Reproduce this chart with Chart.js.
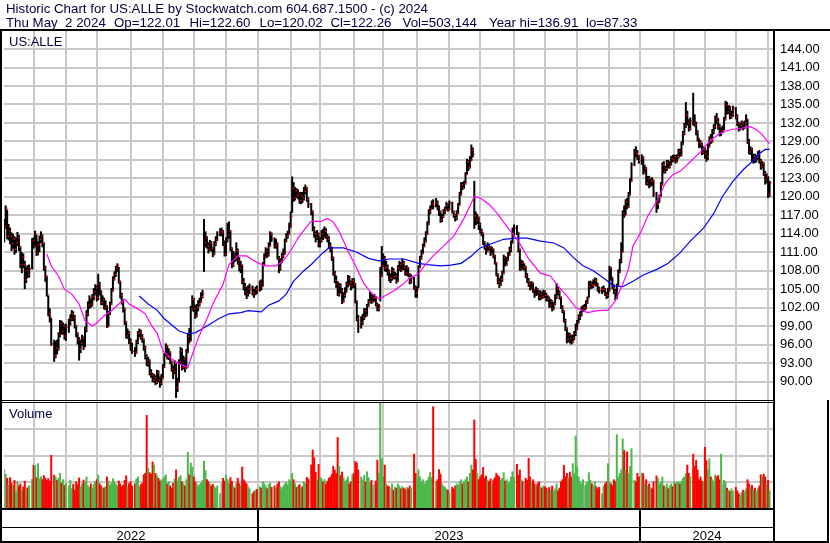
<!DOCTYPE html>
<html>
<head>
<meta charset="utf-8">
<title>Historic Chart for US:ALLE</title>
<script src="https://cdn.jsdelivr.net/npm/chart.js@4.4.1/dist/chart.umd.min.js"></script>
<style>
  html, body { margin: 0; padding: 0; background: #fff; }
  canvas { display: block; }
</style>
</head>
<body>
<canvas id="historicChart" width="830" height="543"></canvas>
<script>
// Market holidays inside the range (no session, but the weekday keeps its slot)
const holidays = [
    '2022-05-30', '2022-06-20', '2022-07-04', '2022-09-05', '2022-11-24', '2022-12-26',
    '2023-01-02', '2023-01-16', '2023-02-20', '2023-04-07', '2023-05-29', '2023-06-19',
    '2023-07-04', '2023-09-04', '2023-11-23', '2023-12-25',
    '2024-01-01', '2024-01-15', '2024-02-19', '2024-03-29'
];

// Daily highs, one row per month (2022-05-04 .. 2024-05-02)
const highs = [
    116.4, 118.6, 117.9, 115.6, 115.0, 114.2, 114.0, 113.6, 113.4, 114.3, 113.8, 112.0, 111.0, 110.8, 109.6, 108.7, 108.9, 109.0, 113.3,
    113.4, 114.5, 113.9, 112.8, 113.7, 114.4, 113.9, 112.6, 108.8, 107.2, 104.0, 101.9, 100.3, 96.8, 96.6, 96.8, 98.0, 100.0, 99.9, 99.6, 99.3,
    99.4, 100.2, 100.9, 101.6, 101.4, 100.8, 99.2, 98.0, 97.2, 96.8, 97.6, 97.3, 98.9, 101.6, 103.0, 104.0, 103.6, 104.2, 105.2, 105.8,
    105.6, 107.5, 106.2, 104.8, 104.0, 103.6, 103.2, 102.4, 101.5, 103.0, 105.2, 107.1, 107.9, 108.8, 109.2, 108.6, 106.4, 104.4, 103.3, 102.0, 99.8, 98.6, 98.2,
    97.0, 96.3, 95.6, 96.8, 98.2, 98.6, 98.4, 97.7, 97.0, 95.8, 94.4, 94.0, 93.6, 92.0, 91.4, 91.2, 91.0, 91.9, 91.8, 90.8, 91.2,
    92.8, 94.6, 96.2, 95.9, 95.4, 94.9, 93.4, 92.6, 93.5, 93.0, 90.6, 93.6, 95.6, 95.4, 94.2, 93.9, 95.3, 97.9, 98.7, 102.3, 104.0,
    103.6, 102.4, 102.6, 103.2, 103.6, 104.5, 104.9, 116.4, 114.4, 113.6, 112.6, 113.0, 112.8, 111.8, 112.8, 113.6, 114.4, 114.9, 115.0, 114.6, 112.9,
    113.4, 115.8, 116.0, 114.6, 111.8, 111.2, 110.9, 112.6, 111.6, 110.2, 109.6, 109.0, 106.8, 106.0, 105.4, 105.6, 105.9, 105.6, 105.0, 105.4, 105.6,
    106.4, 106.6, 109.4, 110.8, 111.8, 111.6, 112.6, 114.4, 114.2, 113.4, 113.2, 112.6, 110.4, 110.0, 110.9, 111.6, 113.2, 114.1, 114.5, 115.8,
    117.6, 123.3, 122.4, 121.6, 121.4, 121.2, 120.8, 120.8, 120.8, 121.6, 122.0, 121.6, 119.9, 119.0, 117.8, 115.2, 114.4, 114.6, 114.2,
    113.4, 114.6, 114.8, 115.2, 114.9, 114.0, 113.6, 112.6, 111.9, 110.3, 108.0, 107.2, 106.3, 106.0, 105.9, 105.2, 104.5, 105.3, 106.2, 107.3, 107.2, 106.4, 106.8,
    106.8, 106.0, 103.2, 100.8, 100.6, 101.0, 101.9, 101.9, 102.6, 103.4, 104.6, 104.4, 104.1, 104.2, 103.9, 102.8, 102.6, 108.6, 112.0,
    110.8, 110.4, 109.6, 109.0, 108.2, 107.6, 108.6, 108.4, 107.8, 107.6, 108.9, 109.6, 109.4, 110.0, 109.6, 108.8, 108.9, 108.6, 107.6, 107.4, 107.0, 105.6,
    105.4, 108.9, 110.4, 111.4, 112.4, 113.4, 114.4, 116.0, 118.0, 118.6, 119.4, 119.6, 119.8, 119.4, 118.6, 117.8, 117.2, 118.0, 118.4, 119.2, 118.9,
    119.4, 119.2, 117.8, 117.2, 117.8, 119.0, 120.8, 122.4, 122.4, 122.6, 124.0, 126.2, 126.0, 126.6, 128.5, 128.0, 122.6, 117.6, 117.2, 116.8,
    115.8, 114.8, 114.2, 112.8, 112.2, 112.6, 112.4, 112.0, 111.9, 111.6, 110.6, 109.4, 107.6, 106.8, 107.2, 108.0, 110.6, 110.4, 110.2, 111.0, 111.9, 112.9, 115.0,
    115.5, 115.4, 114.3, 111.6, 109.8, 109.6, 109.2, 108.8, 107.6, 106.8, 106.2, 106.3, 106.1, 105.0, 105.4, 105.2, 104.8, 104.8, 104.6, 104.9,
    104.8, 104.4, 104.0, 103.8, 103.4, 103.2, 102.9, 104.2, 106.0, 105.4, 104.8, 103.8, 102.4, 101.6, 100.2, 98.8, 98.0, 97.9, 97.6, 97.6, 98.2, 99.4,
    100.0, 100.9, 101.4, 102.2, 102.4, 102.6, 103.2, 103.8, 106.3, 106.4, 106.2, 106.6, 106.9, 106.8, 106.0, 105.4, 105.4, 105.6, 105.2, 104.6, 105.2,
    108.8, 108.6, 107.0, 105.8, 105.0, 105.9, 108.2, 109.9, 112.6, 117.8, 118.6, 119.6, 119.8, 120.8, 123.0, 125.6, 127.8, 128.2, 127.6, 126.8,
    126.9, 126.6, 125.2, 124.8, 123.4, 123.4, 123.0, 123.2, 122.8, 120.8, 119.8, 120.4, 122.4, 125.6, 125.8, 125.0, 126.0, 126.0, 125.8, 126.6, 126.8,
    126.9, 126.8, 126.9, 127.8, 127.8, 129.0, 130.7, 132.0, 135.4, 134.0, 132.6, 132.9, 136.91, 133.4, 132.2, 130.8, 129.6, 129.2, 128.8, 128.2,
    128.0, 127.6, 128.6, 129.8, 130.2, 131.0, 131.8, 133.2, 133.6, 132.8, 131.8, 131.3, 131.6, 133.0, 135.6, 135.4, 134.9, 134.8, 134.0, 134.8,
    134.6, 133.4, 132.2, 132.0, 132.4, 132.2, 132.4, 133.4, 132.6, 129.4, 128.2, 128.0, 127.0, 127.0, 126.8, 127.4, 127.6, 126.2, 125.8, 125.6, 124.2, 123.8,
    123.4, 122.60
];

// Daily lows
const lows = [
    112.6, 114.8, 113.1, 112.9, 112.3, 111.2, 111.6, 110.6, 110.9, 112.0, 111.2, 108.4, 107.6, 108.4, 105.0, 106.0, 106.8, 106.9, 108.2,
    111.6, 111.8, 110.4, 110.5, 111.0, 112.5, 111.8, 108.0, 106.2, 103.8, 100.6, 99.6, 95.8, 93.2, 93.8, 94.4, 95.0, 97.2, 97.6, 97.6, 96.8,
    96.6, 97.9, 99.1, 99.8, 99.8, 98.6, 97.2, 96.0, 93.4, 94.6, 95.8, 95.1, 95.6, 98.0, 100.6, 101.8, 102.0, 102.2, 103.2, 104.0,
    103.0, 103.2, 104.0, 102.4, 102.4, 101.7, 101.6, 98.7, 98.9, 100.8, 102.4, 104.6, 106.4, 107.0, 107.8, 105.9, 103.5, 102.5, 101.2, 99.2, 97.0, 96.9, 96.1,
    95.0, 94.5, 94.0, 94.5, 96.1, 97.2, 96.8, 96.3, 95.0, 93.6, 92.5, 92.4, 91.0, 90.6, 89.9, 89.8, 89.4, 89.6, 89.9, 89.0, 89.4,
    90.4, 92.2, 94.0, 93.6, 93.5, 92.8, 91.6, 90.4, 91.2, 87.33, 88.3, 89.8, 92.8, 91.8, 92.0, 91.5, 92.0, 94.6, 96.2, 96.5, 101.5,
    101.3, 100.2, 100.4, 101.4, 102.2, 102.8, 103.5, 107.8, 111.8, 111.6, 110.8, 111.2, 111.1, 110.2, 110.5, 112.0, 112.8, 113.6, 113.6, 112.0, 110.3,
    110.4, 112.6, 113.2, 111.2, 108.4, 108.6, 109.4, 109.6, 109.0, 107.9, 107.6, 105.8, 104.8, 104.0, 103.4, 103.8, 104.2, 104.0, 103.6, 104.0, 104.2,
    104.6, 104.8, 105.4, 108.8, 110.0, 110.1, 110.3, 111.9, 112.7, 111.6, 111.6, 109.8, 107.6, 108.0, 109.2, 110.0, 110.6, 112.6, 113.2, 113.8,
    115.0, 117.4, 119.2, 119.4, 119.8, 119.6, 118.9, 118.8, 119.0, 119.4, 120.4, 119.2, 118.2, 117.0, 114.4, 113.4, 112.6, 113.0, 111.8,
    111.8, 112.6, 113.0, 113.3, 113.2, 112.6, 111.6, 111.0, 109.6, 107.2, 106.0, 105.2, 103.9, 103.8, 104.3, 102.6, 102.8, 103.6, 104.4, 105.3, 105.6, 104.8, 105.1,
    105.2, 102.7, 99.8, 97.9, 98.6, 99.2, 100.0, 100.4, 100.6, 102.1, 102.8, 102.6, 102.8, 103.0, 102.2, 101.4, 101.4, 103.0, 107.0,
    108.6, 107.9, 107.8, 107.2, 106.3, 106.0, 106.4, 106.6, 106.6, 105.9, 106.2, 108.0, 107.8, 108.0, 108.1, 107.2, 107.2, 107.0, 105.8, 105.9, 104.9, 103.6,
    103.6, 105.2, 108.4, 109.8, 110.7, 111.8, 112.6, 113.8, 115.4, 117.2, 117.9, 118.0, 118.3, 117.8, 116.9, 115.8, 115.9, 116.6, 117.2, 117.8, 117.6,
    117.8, 117.3, 116.6, 116.0, 116.2, 117.2, 118.6, 120.2, 121.1, 121.3, 122.0, 123.6, 124.2, 124.6, 125.8, 126.4, 114.8, 115.4, 115.6, 114.6,
    114.0, 113.6, 112.2, 111.4, 110.6, 111.0, 111.3, 110.4, 110.6, 110.0, 109.0, 107.1, 105.8, 105.2, 105.5, 106.2, 107.4, 108.7, 108.8, 109.6, 110.4, 111.0, 112.4,
    113.6, 113.8, 111.0, 108.0, 108.0, 108.2, 108.0, 106.8, 106.0, 105.4, 104.8, 104.9, 104.4, 103.6, 103.9, 104.0, 103.2, 103.2, 103.4, 103.5,
    103.6, 103.0, 103.0, 102.0, 102.0, 101.4, 101.6, 102.4, 103.4, 104.0, 103.3, 101.8, 101.1, 99.6, 98.2, 96.2, 96.4, 96.2, 96.0, 96.2, 96.7, 97.4,
    98.4, 99.4, 100.0, 100.6, 101.3, 101.5, 101.7, 102.6, 103.6, 105.0, 105.1, 105.2, 105.6, 105.4, 104.6, 104.3, 104.2, 104.5, 103.9, 103.4, 103.6,
    104.6, 106.4, 105.0, 104.2, 103.2, 103.4, 105.4, 107.6, 109.2, 111.0, 116.6, 117.0, 118.0, 118.2, 120.2, 122.4, 125.0, 126.4, 126.0, 125.4,
    125.2, 123.6, 123.8, 121.9, 121.8, 121.4, 121.6, 121.8, 120.0, 117.4, 118.0, 119.0, 120.0, 121.8, 123.8, 123.8, 124.2, 124.6, 124.6, 125.1, 125.6,
    125.8, 125.4, 125.6, 126.2, 126.5, 126.6, 128.4, 130.0, 131.2, 131.6, 130.6, 130.8, 131.6, 131.4, 130.0, 129.0, 127.9, 128.0, 126.8, 126.9,
    126.2, 125.7, 126.0, 128.0, 128.6, 128.8, 130.2, 131.0, 131.8, 130.9, 129.8, 129.9, 130.4, 130.8, 132.4, 133.4, 133.4, 132.6, 132.7, 133.0,
    132.6, 131.5, 130.6, 130.8, 131.0, 130.8, 131.0, 131.6, 128.6, 126.9, 126.8, 125.6, 125.4, 125.5, 125.6, 126.0, 125.4, 124.4, 124.6, 123.4, 122.0, 122.2,
    119.8, 120.02
];

// Daily closes
const closes = [
    115.2, 118.1, 113.6, 114.5, 113.6, 112.4, 113.2, 111.5, 112.6, 113.4, 111.8, 109.0, 110.2, 109.0, 106.5, 108.0, 107.4, 108.3, 112.8,
    112.0, 113.9, 110.8, 112.2, 113.1, 113.6, 112.5, 108.4, 107.0, 104.2, 101.0, 100.5, 96.1, 94.2, 95.5, 95.3, 97.6, 99.4, 98.2, 99.0, 97.4,
    98.8, 99.6, 100.2, 101.0, 100.4, 99.0, 97.8, 96.8, 95.3, 96.2, 97.0, 95.5, 98.5, 101.0, 102.4, 103.4, 102.6, 103.8, 104.6, 105.2,
    103.6, 105.8, 104.4, 102.8, 103.3, 102.0, 102.3, 98.9, 101.0, 102.6, 104.8, 106.6, 107.4, 108.4, 108.9, 106.2, 104.0, 102.9, 101.8, 99.6, 97.4, 97.9, 96.5,
    95.5, 94.9, 94.7, 96.4, 97.8, 98.0, 97.2, 96.8, 95.5, 94.0, 92.9, 93.4, 91.4, 91.0, 90.2, 90.6, 89.9, 91.4, 90.2, 89.7, 90.6,
    92.4, 94.1, 95.7, 94.0, 94.7, 93.1, 92.0, 91.6, 92.9, 89.0, 90.0, 93.2, 95.0, 92.3, 93.6, 92.1, 94.8, 97.3, 96.6, 101.8, 103.4,
    101.8, 100.6, 102.0, 102.6, 103.0, 103.8, 104.2, 112.6, 113.4, 112.0, 111.4, 112.5, 111.6, 110.7, 112.3, 113.0, 113.9, 114.3, 114.3, 112.2, 110.7,
    113.0, 113.8, 114.4, 111.6, 109.0, 110.6, 110.0, 111.2, 109.6, 108.4, 108.9, 106.2, 105.5, 104.6, 104.2, 105.0, 105.2, 104.5, 104.2, 105.0, 104.8,
    106.0, 105.4, 109.0, 110.2, 111.2, 110.6, 112.0, 113.9, 113.2, 112.0, 112.3, 110.0, 108.4, 109.6, 110.4, 110.9, 112.8, 113.6, 114.0, 115.4,
    116.8, 121.4, 119.8, 121.0, 120.3, 120.6, 119.4, 120.2, 119.8, 120.9, 121.4, 119.6, 118.8, 117.6, 114.7, 114.0, 113.4, 113.9, 112.3,
    113.0, 114.0, 113.5, 114.4, 113.6, 113.1, 112.0, 111.5, 110.0, 107.5, 106.4, 105.8, 104.2, 105.5, 104.8, 103.0, 104.0, 104.6, 105.8, 106.8, 106.0, 105.5, 106.4,
    105.8, 103.0, 100.2, 99.0, 99.6, 100.4, 101.5, 100.8, 102.3, 103.0, 104.2, 103.0, 103.6, 103.6, 102.5, 101.8, 102.2, 107.3, 108.8,
    110.0, 108.4, 108.6, 107.8, 106.8, 106.8, 108.0, 107.0, 107.2, 106.3, 108.4, 109.0, 108.2, 109.2, 108.5, 107.6, 108.4, 107.4, 106.2, 106.8, 105.2, 104.4,
    105.0, 108.6, 110.0, 110.8, 112.0, 112.8, 114.0, 115.6, 117.6, 118.0, 118.9, 118.5, 119.0, 118.2, 117.6, 116.2, 116.8, 117.5, 118.0, 118.6, 118.0,
    119.0, 117.6, 117.0, 116.5, 117.4, 118.6, 120.4, 122.0, 121.4, 122.2, 123.6, 125.7, 124.8, 126.0, 127.6, 126.9, 116.9, 116.2, 116.6, 115.5,
    114.4, 114.0, 112.6, 111.8, 111.2, 112.0, 111.7, 110.8, 111.5, 110.4, 109.2, 107.4, 106.2, 105.8, 106.6, 107.6, 110.2, 109.0, 109.8, 110.6, 111.4, 112.5, 113.8,
    114.9, 114.2, 111.4, 108.3, 109.2, 108.6, 108.6, 107.2, 106.3, 105.8, 105.2, 105.9, 104.7, 104.2, 105.0, 104.4, 103.6, 104.2, 103.8, 104.6,
    104.0, 103.4, 103.6, 102.4, 103.0, 101.8, 102.6, 103.8, 105.0, 104.4, 103.6, 102.0, 101.4, 99.9, 98.6, 96.8, 97.6, 97.0, 96.4, 97.0, 97.8, 98.7,
    99.6, 100.4, 101.0, 101.6, 102.0, 102.0, 102.8, 103.4, 105.4, 105.8, 105.6, 105.8, 106.4, 105.7, 105.0, 104.7, 104.9, 105.0, 104.2, 104.0, 104.8,
    108.4, 106.8, 105.2, 104.6, 103.6, 105.6, 107.8, 109.6, 111.0, 117.4, 117.0, 119.2, 118.4, 120.4, 122.6, 125.2, 127.3, 127.0, 126.5, 125.9,
    126.4, 124.0, 124.6, 122.2, 123.0, 121.8, 122.6, 122.5, 120.4, 118.8, 119.3, 120.0, 122.0, 125.2, 124.2, 124.6, 125.6, 124.9, 125.4, 126.2, 126.0,
    126.5, 125.8, 126.5, 127.4, 126.9, 128.6, 130.3, 131.6, 133.3, 132.0, 131.1, 132.4, 132.0, 131.7, 130.4, 129.4, 128.8, 128.5, 127.2, 127.7,
    127.0, 126.5, 128.2, 129.4, 129.0, 130.6, 131.4, 132.7, 132.2, 131.4, 130.3, 130.8, 130.8, 132.6, 134.9, 133.8, 134.4, 133.0, 133.4, 134.3,
    133.0, 131.9, 131.1, 131.6, 131.9, 131.2, 132.0, 132.7, 129.0, 127.3, 127.8, 126.0, 126.6, 126.0, 126.4, 126.9, 125.8, 124.9, 125.4, 123.8, 122.8, 123.3,
    120.4, 122.26
];

// Daily volume, thousands of shares
const volumes = [
    1120, 980, 860, 660, 880, 720, 650, 800, 470, 760, 640, 700, 500, 610, 780, 560, 590, 650, 830,
    1230, 1230, 880, 1280, 850, 900, 820, 940, 860, 800, 850, 780, 1520, 950, 900, 800, 860, 1000, 720, 820, 660,
    720, 640, 800, 560, 690, 520, 760, 680, 870, 620, 700, 810, 740, 900, 650, 600, 700, 580, 690, 760,
    820, 950, 700, 640, 560, 590, 620, 900, 780, 660, 720, 850, 760, 690, 640, 780, 700, 620, 660, 800, 930, 620, 710,
    760, 640, 700, 840, 900, 620, 680, 720, 960, 1000, 2660, 1150, 1020, 980, 1330, 1240, 1000, 940, 860, 780, 820,
    820, 900, 960, 700, 760, 640, 580, 720, 840, 1100, 780, 880, 940, 760, 700, 640, 820, 1610, 960, 1300, 1180,
    900, 760, 700, 640, 680, 720, 800, 1350, 1080, 820, 760, 700, 640, 690, 620, 580, 640, 420, 720, 860, 780,
    940, 820, 700, 880, 760, 640, 580, 720, 860, 700, 640, 1180, 820, 760, 700, 620, 560, 420, 480, 520, 540,
    620, 580, 760, 700, 640, 560, 680, 720, 600, 640, 580, 700, 760, 620, 560, 640, 700, 740, 680, 820,
    780, 1000, 820, 700, 600, 640, 680, 560, 620, 760, 700, 890, 840, 1240, 1670, 1450, 1030, 800, 1260,
    900, 860, 760, 820, 700, 780, 860, 900, 980, 1200, 1100, 1000, 2030, 1200, 940, 1040, 880, 760, 820, 900, 700, 760, 960,
    1000, 1340, 1300, 1100, 900, 820, 940, 760, 1050, 880, 720, 800, 660, 700, 780, 1380, 1000, 3030, 1420,
    900, 1240, 700, 640, 620, 560, 700, 520, 600, 580, 700, 640, 560, 620, 580, 540, 600, 560, 640, 580, 1550, 1000,
    860, 1100, 900, 760, 820, 700, 760, 800, 900, 1030, 880, 2910, 760, 820, 1110, 980, 700, 640, 600, 560, 520,
    420, 600, 560, 640, 700, 660, 760, 820, 700, 760, 820, 900, 760, 1000, 1240, 1100, 2530, 1400, 1000, 820,
    900, 960, 1170, 860, 920, 800, 760, 840, 700, 820, 880, 1000, 940, 900, 800, 860, 1020, 780, 820, 720, 760, 900, 1050,
    900, 1260, 950, 1100, 820, 760, 700, 860, 800, 1430, 900, 760, 820, 700, 640, 700, 760, 620, 580, 640,
    620, 580, 540, 600, 520, 640, 480, 560, 700, 500, 580, 760, 820, 1230, 900, 1000, 860, 1040, 900, 1280, 1000, 2070,
    1180, 900, 760, 700, 820, 640, 700, 760, 1020, 800, 700, 640, 760, 620, 560, 600, 420, 640, 700, 760, 1280,
    760, 700, 640, 820, 760, 2110, 900, 1000, 1100, 1990, 1660, 1100, 1610, 1000, 1200, 1710, 800, 760, 1000, 900,
    1000, 990, 700, 820, 640, 700, 600, 560, 760, 930, 860, 700, 760, 900, 640, 600, 700, 560, 640, 700, 620,
    760, 700, 740, 760, 700, 780, 860, 900, 1000, 1240, 1000, 900, 1550, 1200, 1370, 1100, 820, 900, 780, 760,
    1750, 1370, 1100, 1420, 900, 820, 760, 960, 900, 940, 820, 1550, 700, 800, 760, 580, 520, 480, 560, 500,
    600, 500, 420, 380, 460, 520, 480, 560, 820, 700, 600, 660, 520, 580, 480, 560, 640, 960, 920, 980, 900, 680,
    800, 503
];

// Moving averages (weekday number since 2022-05-04, price)
const fastMaDay = [29, 32, 37, 41, 46, 51, 55, 60, 63, 68, 73, 79, 82, 85, 91, 96, 100, 104, 108, 114,
    119, 125, 127, 132, 138, 143, 149, 153, 159, 165, 170, 177, 185, 190, 195, 200, 206, 209, 216, 220,
    224, 228, 234, 240, 245, 250, 255, 260, 265, 271, 276, 282, 286, 292, 299, 306, 313, 318, 320, 324,
    330, 336, 343, 350, 357, 365, 372, 377, 383, 389, 397, 404, 411, 416, 421, 425, 428, 433, 438, 445,
    450, 455, 460, 467, 474, 480, 487, 494, 501, 508, 512, 516, 521];
const fastMa = [110.7, 108.8, 107.1, 105.0, 104.2, 102.6, 99.9, 99.0, 99.5, 100.7, 101.5, 102.8, 103.4, 102.6, 101.8, 101.0, 99.2, 97.9, 95.0, 93.7,
    92.9, 92.3, 93.7, 97.0, 100.2, 103.1, 105.8, 109.0, 110.4, 110.4, 109.6, 108.8, 108.8, 109.6, 111.2, 113.3, 115.2, 116.0, 116.0, 116.5,
    115.9, 114.4, 111.2, 108.4, 105.8, 104.4, 103.4, 104.0, 104.7, 105.7, 106.8, 107.5, 108.8, 110.4, 112.0, 113.6, 116.5, 119.0, 120.1, 119.8,
    118.8, 117.2, 114.9, 112.8, 109.9, 107.6, 107.1, 105.5, 103.9, 102.0, 101.2, 101.5, 101.6, 103.1, 105.8, 108.3, 112.0, 114.1, 116.8, 119.6,
    122.2, 123.6, 124.1, 125.7, 127.3, 129.0, 130.3, 130.9, 131.1, 131.4, 130.9, 130.1, 128.6];
const slowMaDay = [92, 98, 104, 109, 119, 124, 130, 138, 146, 153, 161, 166, 175, 180, 187, 192, 197, 204, 209, 216,
    221, 231, 240, 248, 255, 262, 272, 282, 288, 297, 304, 311, 318, 324, 333, 340, 348, 356, 365, 374,
    381, 388, 394, 401, 408, 415, 421, 428, 435, 445, 452, 460, 467, 476, 483, 489, 496, 503, 509, 514, 518, 521];
const slowMa = [103.9, 102.6, 101.6, 100.2, 98.2, 97.8, 97.9, 99.0, 100.2, 101.0, 101.2, 101.5, 101.3, 102.4, 103.1, 104.2, 106.3, 108.0, 109.0, 110.7,
    111.7, 111.7, 111.0, 110.0, 109.6, 109.9, 109.9, 109.2, 109.0, 108.8, 108.9, 109.2, 110.4, 111.7, 112.5, 113.1, 113.3, 113.3, 112.8, 112.5,
    111.7, 110.0, 108.8, 108.0, 106.8, 105.5, 105.4, 106.3, 107.3, 108.3, 109.2, 110.9, 112.8, 114.9, 117.3, 120.1, 122.5, 124.4, 125.7, 127.0, 127.7, 127.7];

// Axis values and labels
const priceTicks = [90, 93, 96, 99, 102, 105, 108, 111, 114, 117, 120, 123, 126, 129, 132, 135, 138, 141, 144];
const volumeTicks = [750, 1500, 2250];
const volumeTickLabels = ['750 k', '1.5 M', '2.2 M'];
const yearLabels = ['2022', '2023', '2024'];
const symbol = 'US:ALLE';
const headerTitle = 'Historic Chart for US:ALLE by Stockwatch.com 604.687.1500 - (c) 2024';
const headerQuote = [
    ['Thu May  2 2024', 6], ['Op=122.01', 114], ['Hi=122.60', 189.5], ['Lo=120.02', 259.5],
    ['Cl=122.26', 330.5], ['Vol=503,144', 402.5], ['Year hi=136.91', 489], ['lo=87.33', 586]
];

const FONT = '"Liberation Sans", Arial, Helvetica, sans-serif';
const TEXT = '#000040';
const GRID = '#c8c8c8';
const UP = '#4cb84c';
const DOWN = '#ff0000';
const FLAT = '#a8a8a8';
const VOLUME_PANEL_TOP = 3000;

// Weekday slot of every session, first weekday of each month and of each year
const sessionSlots = [];
const monthSlots = [];
const yearSlots = [];
function buildCalendar() {
    const day = new Date(Date.UTC(2022, 4, 4));
    const end = Date.UTC(2024, 4, 2);
    let slot = 0;
    let prevMonth = null;
    while (day.getTime() <= end) {
        const wd = day.getUTCDay();
        if (wd !== 0 && wd !== 6) {
            const m = day.getUTCMonth();
            if (prevMonth !== null && m !== prevMonth) {
                monthSlots.push(slot);
                if (m === 0) yearSlots.push(slot);
            }
            prevMonth = m;
            if (!holidays.includes(day.toISOString().slice(0, 10))) sessionSlots.push(slot);
            slot++;
        }
        day.setUTCDate(day.getUTCDate() + 1);
    }
}
buildCalendar();

if ([highs, lows, closes, volumes].some(a => a.length !== sessionSlots.length)) {
    console.error('length mismatch', sessionSlots.length, highs.length, lows.length, closes.length, volumes.length);
}

// Frame, panel captions, header and year band
const stockwatchFrame = {
    id: 'stockwatchFrame',
    afterDraw(chart) {
        const { ctx, chartArea: area, scales } = chart;
        const panelTop = Math.round(scales.yv.getPixelForValue(VOLUME_PANEL_TOP));
        const base = Math.round(scales.yv.getPixelForValue(0));
        const W = chart.width, H = chart.height;
        ctx.save();
        ctx.fillStyle = '#000';
        ctx.fillRect(0, area.top - 2, W, 2);
        ctx.fillRect(0, area.top - 2, 2, H - area.top + 2);
        ctx.fillRect(area.right - 1, area.top - 2, 2, H - area.top + 2);
        ctx.fillRect(W - 3, panelTop - 3, 2, H - panelTop + 3);
        ctx.fillRect(0, panelTop - 3, area.right, 1);
        ctx.fillRect(0, panelTop - 1, area.right, 1);
        ctx.fillRect(0, base, area.right, 2);
        ctx.fillRect(0, base + 19, area.right, 1);
        ctx.fillRect(0, H - 2, W - 1, 2);

        const bounds = [area.left];
        yearSlots.forEach(s => {
            const px = Math.round(scales.x.getPixelForValue(s));
            ctx.fillRect(px - 1, base, 2, H - base);
            bounds.push(px);
        });
        bounds.push(area.right);

        ctx.font = '13px ' + FONT;
        ctx.textBaseline = 'alphabetic';
        ctx.textAlign = 'center';
        ctx.fillStyle = '#000';
        yearLabels.forEach((label, i) => {
            ctx.fillText(label, (bounds[i] + bounds[i + 1]) / 2, H - 3);
        });

        ctx.textAlign = 'left';
        ctx.fillStyle = TEXT;
        ctx.fillText(symbol, 9, area.top + 15);
        ctx.fillText('Volume', 9, panelTop + 15);

        ctx.font = '13.3px ' + FONT;
        ctx.fillText(headerTitle, 6, 13);
        headerQuote.forEach(([txt, x]) => ctx.fillText(txt, x, 27));
        ctx.restore();
    }
};

// Series for the library
const rangeBars = sessionSlots.map((s, i) => ({ x: s, y: [lows[i], highs[i]] }));
const closeTicks = sessionSlots.map((s, i) => ({ x: s + 0.8, y: closes[i] }));
const volumeBars = sessionSlots.map((s, i) => ({ x: s, y: volumes[i] }));
const volumeColors = closes.map((c, i) => {
    if (i === 0 || c === closes[i - 1]) return FLAT;
    return c > closes[i - 1] ? UP : DOWN;
});
const fastLine = fastMaDay.map((d, i) => ({ x: d, y: fastMa[i] }));
const slowLine = slowMaDay.map((d, i) => ({ x: d, y: slowMa[i] }));

Chart.defaults.font.family = FONT;
Chart.defaults.font.size = 13;
Chart.defaults.color = '#000';

new Chart(document.getElementById('historicChart'), {
    type: 'scatter',
    data: {
        datasets: [{
            type: 'line',
            data: fastLine,
            borderColor: '#ff00ff',
            borderWidth: 1.2,
            pointRadius: 0,
            tension: 0,
            yAxisID: 'y',
            order: 0
        }, {
            type: 'line',
            data: slowLine,
            borderColor: '#0000ff',
            borderWidth: 1.2,
            pointRadius: 0,
            tension: 0,
            yAxisID: 'y',
            order: 0
        }, {
            type: 'scatter',
            data: closeTicks,
            pointStyle: 'rect',
            pointRadius: 1,
            borderWidth: 0,
            backgroundColor: '#ff0000',
            yAxisID: 'y',
            order: 1
        }, {
            type: 'bar',
            data: rangeBars,
            backgroundColor: '#000',
            barThickness: 2,
            grouped: false,
            inflateAmount: 0,
            yAxisID: 'y',
            order: 2
        }, {
            type: 'bar',
            data: volumeBars,
            backgroundColor: volumeColors,
            barThickness: 2,
            grouped: false,
            inflateAmount: 0,
            yAxisID: 'yv',
            order: 3
        }]
    },
    options: {
        responsive: false,
        animation: false,
        events: [],
        layout: { padding: { left: 2, top: 31, right: 0, bottom: 35 } },
        plugins: { legend: { display: false }, tooltip: { enabled: false } },
        scales: {
            x: {
                type: 'linear',
                min: -0.14,
                max: 524,
                offset: false,
                afterBuildTicks: ax => { ax.ticks = monthSlots.map(v => ({ value: v })); },
                afterFit: ax => { ax.height = 0; },
                ticks: { display: false },
                grid: { color: GRID, lineWidth: 2, drawTicks: false, offset: false },
                border: { display: false }
            },
            y: {
                type: 'linear',
                position: 'right',
                weight: 1,
                min: 69.45,
                max: 146.94,
                afterBuildTicks: ax => { ax.ticks = priceTicks.map(v => ({ value: v })); },
                afterFit: ax => { ax.width = 56; },
                ticks: { autoSkip: false, padding: 6, callback: v => v.toFixed(2) },
                grid: { color: GRID, lineWidth: 2, drawTicks: false },
                border: { display: false }
            },
            yv: {
                type: 'linear',
                position: 'right',
                weight: 0,
                min: 0,
                max: 13655,
                afterBuildTicks: ax => { ax.ticks = volumeTicks.map(v => ({ value: v })); },
                afterFit: ax => { ax.width = 0; },
                ticks: { autoSkip: false, padding: 6, callback: v => volumeTickLabels[volumeTicks.indexOf(v)] },
                grid: { color: GRID, lineWidth: 2, drawTicks: false },
                border: { display: false }
            }
        }
    },
    plugins: [stockwatchFrame]
});
</script>
</body>
</html>
